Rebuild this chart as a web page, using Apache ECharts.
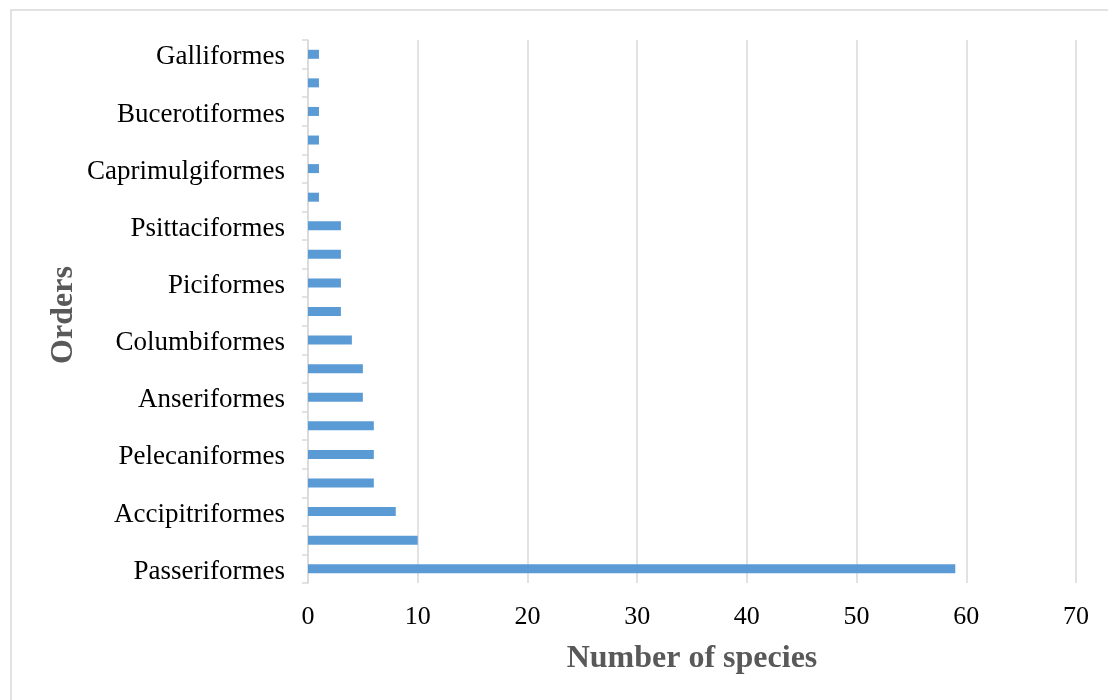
<!DOCTYPE html>
<html>
<head>
<meta charset="utf-8">
<style>html,body{margin:0;padding:0;background:#fff}#c{width:1108px;height:700px}</style>
<script src="https://cdn.jsdelivr.net/npm/echarts@6/dist/echarts.min.js"></script>
</head>
<body>
<div id="c"></div>
<script>
// bottom to top
var categories = ['Passeriformes','Charadriiformes','Accipitriformes','Gruiformes','Pelecaniformes','Suliformes','Anseriformes','Coraciiformes','Columbiformes','Cuculiformes','Piciformes','Strigiformes','Psittaciformes','Falconiformes','Caprimulgiformes','Apodiformes','Bucerotiformes','Podicipediformes','Galliformes'];
var species = [59,10,8,6,6,6,5,5,4,3,3,3,3,1,1,1,1,1,1];
var xTicks = {min:0, max:70, interval:10};
var yTitle = 'Orders';
var xTitle = 'Number of species';

var font = '"Liberation Serif","Times New Roman",serif';
var chart = echarts.init(document.getElementById('c'), null, {renderer:'canvas'});
chart.setOption({
  animation:false,
  backgroundColor:'#fff',
  graphic:[
    {type:'rect',shape:{x:11,y:10,width:1200,height:800},style:{fill:'none',stroke:'#d9d9d9',lineWidth:1.5},silent:true},
    {type:'text',x:64,y:315,rotation:Math.PI/2,style:{text:yTitle,fontFamily:font,fontSize:32,fontWeight:'bold',fill:'#595959',align:'center',verticalAlign:'middle'},silent:true}
  ],
  grid:{left:308,right:32,top:40,bottom:117,containLabel:false},
  xAxis:{
    type:'value',min:xTicks.min,max:xTicks.max,interval:xTicks.interval,
    name:xTitle,nameLocation:'middle',nameGap:60,
    nameTextStyle:{fontFamily:font,fontSize:32,fontWeight:'bold',color:'#595959'},
    axisLine:{show:false},axisTick:{show:false},
    axisLabel:{fontFamily:font,fontSize:26,color:'#000',margin:21},
    splitLine:{show:true,lineStyle:{color:'#d9d9d9',width:1.5}}
  },
  yAxis:{
    type:'category',data:categories,
    axisLine:{show:true,lineStyle:{color:'#d9d9d9',width:1.5}},
    axisTick:{show:true,interval:0,length:6,lineStyle:{color:'#d9d9d9',width:1.5}},
    axisLabel:{interval:1,fontFamily:font,fontSize:27,color:'#000',margin:23,
      formatter:function(v){return '{a|'+v+'}';},
      rich:{a:{fontFamily:font,fontSize:27,color:'#000',padding:[6,0,0,0]}}},
    splitLine:{show:false}
  },
  series:[{type:'bar',data:species,barWidth:9,itemStyle:{color:'#5b9bd5'}}]
});
</script>
</body>
</html>
